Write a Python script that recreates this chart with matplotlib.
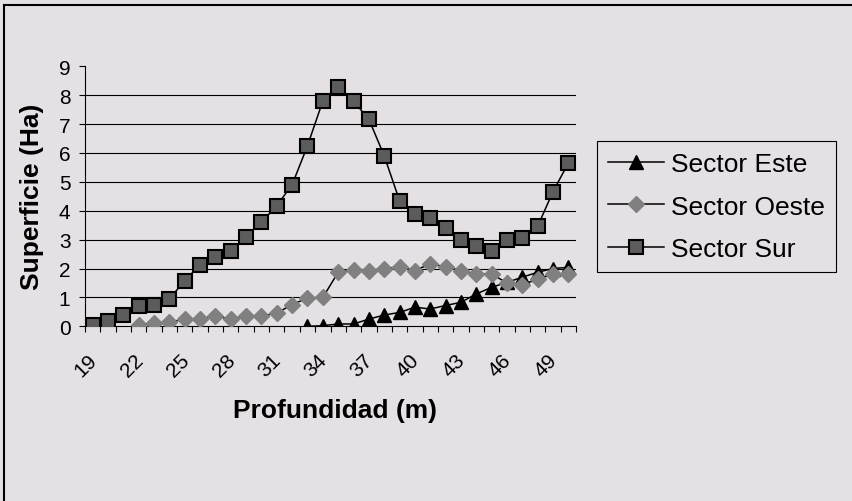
import numpy as np
import matplotlib
matplotlib.use("Agg")
import matplotlib.pyplot as plt
from matplotlib.lines import Line2D
from matplotlib.transforms import ScaledTranslation

plt.rcParams['font.family'] = ['Liberation Sans', 'DejaVu Sans']

# depth categories (m)
depth = list(range(19, 51))
nan = np.nan

# area (Ha) per sector
este = [nan] * 14 + [0.0, 0.02, 0.08, 0.08, 0.25, 0.39, 0.48, 0.66, 0.6,
                     0.72, 0.83, 1.12, 1.35, 1.52, 1.7, 1.87, 2.0, 2.04]
oeste = [nan] * 3 + [0.05, 0.1, 0.14, 0.25, 0.25, 0.35, 0.25, 0.35, 0.35,
                     0.46, 0.75, 0.98, 1.0, 1.87, 1.96, 1.93, 2.0, 2.06,
                     1.93, 2.16, 2.06, 1.93, 1.81, 1.81, 1.5, 1.43, 1.64,
                     1.81, 1.81]
sur = [0.05, 0.2, 0.4, 0.7, 0.75, 0.95, 1.58, 2.13, 2.39, 2.6, 3.1, 3.6,
       4.18, 4.9, 6.25, 7.8, 8.29, 7.79, 7.17, 5.9, 4.35, 3.89, 3.75, 3.4,
       2.99, 2.77, 2.62, 2.99, 3.05, 3.46, 4.66, 5.65]

bg = '#e4e0e4'
fig = plt.figure(figsize=(8.52, 5.02), dpi=100, facecolor=bg)
ax = fig.add_axes([85/852, 1-327.3/502, 491/852, 260/502])
ax.set_facecolor(bg)

x = np.arange(len(depth))
ax.plot(x, este, color='black', lw=1.1, marker='^', ms=9.5,
        mfc='black', mec='black', label='Sector Este', zorder=3)
ax.plot(x, oeste, color='black', lw=1.1, marker='D', ms=8,
        mfc='#808080', mec='#808080', label='Sector Oeste', zorder=3)
ax.plot(x, sur, color='black', lw=1.1, marker='s', ms=9.5,
        mfc='#5c5c5c', mec='black', mew=1.5, label='Sector Sur', zorder=4)

ax.set_xlim(-0.5, len(depth) - 0.5)
ax.set_ylim(0, 9)
ax.set_yticks(range(10))
ax.yaxis.grid(True, color='black', lw=0.8)
ax.yaxis.get_gridlines()[-1].set_visible(False)
ax.yaxis.get_gridlines()[0].set_visible(False)
ax.set_axisbelow(True)

for s in ['top', 'right']:
    ax.spines[s].set_visible(False)
for s in ['left', 'bottom']:
    ax.spines[s].set_linewidth(0.8)

ax.set_xticks(x[::3])
ax.set_xticklabels([str(d) for d in depth[::3]], rotation=45, ha='right')
ax.set_xticks(np.arange(-0.5, len(depth)), minor=True)
ax.tick_params(axis='x', which='major', length=0, pad=13, labelsize=15)
ax.tick_params(axis='x', which='minor', length=4, width=0.8, direction='out')
ax.tick_params(axis='y', length=4.5, width=0.8, pad=6, labelsize=15)
shift = ScaledTranslation(8/100, -6/100, fig.dpi_scale_trans)
for lbl in ax.get_xticklabels():
    lbl.set_transform(lbl.get_transform() + shift)

ax.set_xlabel('Profundidad (m)', fontsize=19, fontweight='bold')
ax.xaxis.set_label_coords(0.509, -0.276)
ax.set_ylabel('Superficie (Ha)', fontsize=19, fontweight='bold')
ax.yaxis.set_label_coords(-0.083, 0.5)

leg = ax.legend(loc='upper left', bbox_to_anchor=(597/852, 1-142/502),
                bbox_transform=fig.transFigure, borderaxespad=0,
                fontsize=19, fancybox=False, framealpha=1, facecolor=bg,
                edgecolor='black', handlelength=2.1, handletextpad=0.3,
                borderpad=0.42, labelspacing=0.7)
leg.get_frame().set_linewidth(0.8)

# outer chart border (left and top edges are inside the image)
fig.add_artist(Line2D([4/852, 4/852], [0, 1-6/502], color='black', lw=1.5))
fig.add_artist(Line2D([4/852, 1], [1-6/502, 1-6/502], color='black', lw=1.5))

fig.savefig('out.png', dpi=100, facecolor=bg)
